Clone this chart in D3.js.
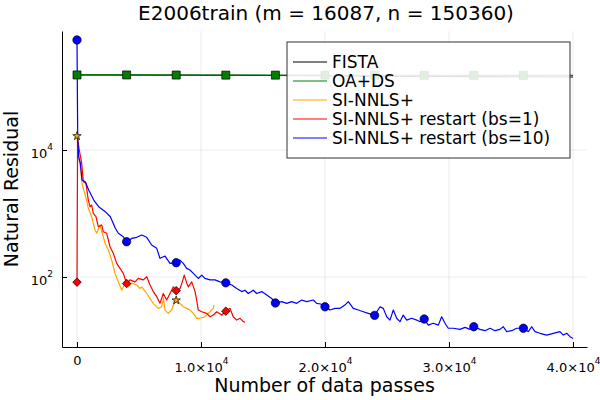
<!DOCTYPE html>
<html>
<head>
<meta charset="utf-8">
<script src="https://cdn.jsdelivr.net/npm/d3@7"></script>
<style>
  body { margin: 0; background: #fff; }
  text { font-family: "DejaVu Sans", sans-serif; fill: #000; }
</style>
</head>
<body>
<div id="chart"></div>
<script>
// values (x = data passes, y = natural residual)
const titleText = 'E2006train (m = 16087, n = 150360)';
const xLabel = 'Number of data passes';
const yLabel = 'Natural Residual';
const xTicks = [0, 10000, 20000, 30000, 40000];
const yTicks = [100, 10000];
const seriesNames = ['FISTA', 'OA+DS', 'SI-NNLS+', 'SI-NNLS+ restart (bs=1)', 'SI-NNLS+ restart (bs=10)'];
const seriesColors = ['#000000', '#008000', '#ffa500', '#ff0000', '#0000ff'];

const fistaData = [[0, 152000], [8000, 151000], [16000, 149000], [24000, 146000], [32000, 143000], [40000, 141000]];
const oaData = [[0, 152000], [4000, 152000], [8000, 151500], [12000, 151000], [16000, 151000], [20000, 150800],
  [24000, 150500], [28000, 150300], [32000, 150200], [36000, 150000], [40000, 150000]];
const oaMarks = [[0, 152000], [4000, 152000], [8000, 151500], [12000, 151000], [16000, 151000], [20000, 150800],
  [24000, 150500], [28000, 150300], [32000, 150200], [36000, 150000]];

const siData = [[0, 16600], [137, 7830], [266, 5460], [403, 3020], [540, 2340], [780, 1630], [910, 1210],
  [1185, 890], [1450, 550], [1590, 488], [1855, 660], [2120, 431], [2260, 340], [2525, 266], [2800, 185],
  [3065, 114], [3330, 84], [3600, 62], [3870, 80], [4140, 70], [4410, 80], [4815, 75], [5080, 66], [5220, 70],
  [5620, 55], [6150, 38.5], [6560, 32.1], [6830, 34], [6960, 46], [7100, 30.2], [7360, 26.8], [7640, 30.2],
  [7900, 43.5], [8040, 43], [8310, 38.5], [8570, 34], [8850, 32.1], [9110, 30.2], [9380, 26.8], [9650, 22.4],
  [9920, 22.4], [10320, 23.7], [10730, 28.4], [10990, 32.1], [11050, 36]];
const siMarks = [[0, 16600], [8000, 43]];

const rs1Data = [[0, 83], [50, 15000], [185, 10000], [380, 6170], [510, 3170], [725, 2990], [910, 1630],
  [1050, 1280], [1185, 1360], [1315, 1010], [1530, 890], [1720, 620], [1990, 660], [2120, 516], [2395, 488],
  [2525, 383], [2660, 300], [2930, 236], [3200, 164], [3470, 137], [3735, 114], [4000, 79], [4270, 90],
  [4680, 84], [4945, 95], [5350, 90], [5620, 101], [5890, 75], [6150, 59], [6430, 49], [6690, 38.5],
  [6960, 55], [7230, 43.5], [7500, 55], [7770, 70], [8000, 61], [8310, 66], [8490, 84], [8650, 107],
  [8850, 80], [8980, 70], [9250, 84], [9520, 59], [9650, 43.5], [9780, 30.2], [10060, 28.4], [10460, 26.8],
  [10730, 23.7], [10990, 25.2], [11270, 28.4], [11670, 25.2], [12000, 29.2], [12340, 32.1], [12600, 23.7],
  [12880, 21], [13150, 22.4], [13410, 19.8], [13550, 19.4]];
const rs1Marks = [[0, 83], [4000, 79], [8000, 61], [12000, 29]];

const rs10Data = [[0, 540000], [60, 15000], [135, 7770], [266, 6240], [403, 3370], [670, 3170], [940, 2340],
  [1350, 1630], [1750, 1280], [2280, 1070], [2690, 890], [3090, 585], [3330, 488], [3735, 431], [4000, 360],
  [4410, 406], [4815, 422], [5220, 458], [5620, 422], [6020, 319], [6430, 283], [6690, 197], [7100, 214],
  [7500, 164], [8000, 168], [8300, 185], [8570, 164], [8850, 137], [9110, 129], [9380, 114], [9780, 95],
  [10060, 107], [10320, 95], [10730, 90], [11130, 90], [11530, 84], [12000, 81], [12480, 75], [12880, 66],
  [13280, 59], [13550, 62], [13810, 55], [14220, 62], [14490, 55], [14900, 59], [15300, 52], [15700, 46],
  [16000, 39], [16510, 41], [16910, 38.5], [17310, 41], [17720, 38.5], [18120, 43.5], [18520, 41],
  [19060, 43.5], [19330, 38.5], [19650, 37.6], [20000, 34], [20400, 30.2], [20810, 32.1], [21210, 32.1],
  [21610, 36.2], [21880, 41], [22280, 32.1], [22690, 30.2], [23090, 28.4], [23490, 26.8], [24000, 24.9],
  [24440, 34], [24700, 32.1], [24980, 23.7], [25240, 21], [25510, 30.2], [25780, 22.4], [26050, 19.8],
  [26310, 25.2], [26590, 21], [26990, 22.4], [27400, 21], [27660, 19.8], [28000, 21.8], [28330, 17.5],
  [28730, 18.7], [29140, 17.5], [29410, 23.7], [29680, 18.7], [29940, 15.6], [30350, 15.6], [30890, 15],
  [31290, 16.1], [31690, 15], [32000, 16.5], [32500, 15], [32900, 14.3], [33310, 15.6], [33710, 14.3],
  [34110, 15], [34380, 16.5], [34650, 13.8], [35060, 14.3], [35460, 15.6], [36000, 15.6], [36400, 13.8],
  [36670, 16.5], [36940, 13.8], [37340, 13], [37880, 12.2], [38410, 13], [38950, 13.8], [39220, 12.2],
  [39490, 13], [39760, 11.5], [40000, 10.8]];
const rs10Marks = [[0, 540000], [4000, 360], [8000, 168], [12000, 81], [16000, 39], [20000, 34],
  [24000, 24.9], [28000, 21.8], [32000, 16.5], [36000, 15.6]];

const width = 600, height = 400;
const margin = { top: 31, right: 13, bottom: 53, left: 62 };

const svg = d3.select('#chart').append('svg')
  .attr('width', width)
  .attr('height', height);

svg.append('rect').attr('width', width).attr('height', height).attr('fill', '#fff');

const x = d3.scaleLinear()
  .domain([-1210, 41130])
  .range([margin.left, width - margin.right]);

const y = d3.scaleLog()
  .domain([7.91, 748000])
  .range([height - margin.bottom, margin.top]);

// grid
const grid = svg.append('g').attr('stroke', '#000').attr('stroke-opacity', 0.1).attr('stroke-width', 0.8);
grid.selectAll('.gx').data(xTicks).join('line')
  .attr('x1', d => x(d)).attr('x2', d => x(d))
  .attr('y1', margin.top).attr('y2', height - margin.bottom);
grid.selectAll('.gy').data(yTicks).join('line')
  .attr('x1', margin.left).attr('x2', width - margin.right)
  .attr('y1', d => y(d)).attr('y2', d => y(d));

// axes
const xAxis = svg.append('g')
  .attr('transform', `translate(0, ${height - margin.bottom})`)
  .call(d3.axisBottom(x).tickValues(xTicks).tickSize(-5).tickSizeOuter(0));
const yAxis = svg.append('g')
  .attr('transform', `translate(${margin.left}, 0)`)
  .call(d3.axisLeft(y).tickValues(yTicks).tickSize(-5).tickSizeOuter(0).tickPadding(9));

[xAxis, yAxis].forEach(ax => {
  ax.select('.domain').attr('stroke', '#000').attr('stroke-width', 1);
  ax.selectAll('.tick line').attr('stroke', '#000');
  ax.selectAll('.tick text').attr('font-size', 13).attr('font-family', 'DejaVu Sans').attr('fill', '#000');
});

xAxis.selectAll('.tick text').each(function (d) {
  const t = d3.select(this).text(null).attr('dy', 0);
  if (d === 0) {
    t.attr('y', 18).append('tspan').text('0');
    return;
  }
  const e = Math.floor(Math.log10(d));
  t.attr('y', 25);
  t.append('tspan').text((d / Math.pow(10, e)).toFixed(1) + '×10');
  t.append('tspan').attr('font-size', 9).attr('dy', -8.5).text(e);
});

yAxis.selectAll('.tick text').each(function (d) {
  const t = d3.select(this).text(null).attr('dy', 7.7);
  const e = Math.round(Math.log10(d));
  t.append('tspan').text('10');
  t.append('tspan').attr('font-size', 9).attr('dy', -8.5).text(e);
});

// series lines
svg.append('clipPath').attr('id', 'clip')
  .append('rect')
  .attr('x', margin.left).attr('y', margin.top)
  .attr('width', width - margin.left - margin.right)
  .attr('height', height - margin.top - margin.bottom);

const line = d3.line().x(d => x(d[0])).y(d => y(d[1]));
const plot = svg.append('g').attr('clip-path', 'url(#clip)');

const allData = [fistaData, oaData, siData, rs1Data, rs10Data];
allData.forEach((data, i) => {
  plot.append('path')
    .datum(data)
    .attr('fill', 'none')
    .attr('stroke', seriesColors[i])
    .attr('stroke-width', 1.2)
    .attr('stroke-linejoin', 'round')
    .attr('d', line);
});

// markers
const markerSets = [
  { data: oaMarks, color: seriesColors[1], type: d3.symbolSquare, size: 64, rot: 0 },
  { data: siMarks, color: seriesColors[2], type: d3.symbolStar, size: 22, rot: 0 },
  { data: rs1Marks, color: seriesColors[3], type: d3.symbolSquare, size: 36, rot: 45 },
  { data: rs10Marks, color: seriesColors[4], type: d3.symbolCircle, size: 55, rot: 0 }
];
markerSets.forEach(m => {
  plot.append('g').selectAll('path').data(m.data).join('path')
    .attr('transform', d => `translate(${x(d[0])}, ${y(d[1])}) rotate(${m.rot})`)
    .attr('d', d3.symbol().type(m.type).size(m.size))
    .attr('fill', m.color)
    .attr('stroke', '#000')
    .attr('stroke-width', 0.7);
});

// legend
const legend = svg.append('g');
legend.append('rect')
  .attr('x', 287).attr('y', 42)
  .attr('width', 283).attr('height', 116)
  .attr('fill', '#fff').attr('fill-opacity', 0.88)
  .attr('stroke', '#333').attr('stroke-width', 1);
seriesNames.forEach((name, i) => {
  const yy = 62 + i * 19;
  legend.append('line')
    .attr('x1', 293).attr('x2', 327)
    .attr('y1', yy).attr('y2', yy)
    .attr('stroke', seriesColors[i]).attr('stroke-width', 1.2);
  legend.append('text')
    .attr('x', 332).attr('y', yy + 6)
    .attr('font-size', 17)
    .text(name);
});

// title and axis labels
svg.append('text')
  .attr('x', 326).attr('y', 20)
  .attr('text-anchor', 'middle')
  .attr('font-size', 20)
  .text(titleText);

svg.append('text')
  .attr('x', (margin.left + width - margin.right) / 2).attr('y', 392)
  .attr('text-anchor', 'middle')
  .attr('font-size', 19)
  .text(xLabel);

svg.append('text')
  .attr('transform', `translate(18, ${(margin.top + height - margin.bottom) / 2}) rotate(-90)`)
  .attr('text-anchor', 'middle')
  .attr('font-size', 19)
  .text(yLabel);
</script>
</body>
</html>
